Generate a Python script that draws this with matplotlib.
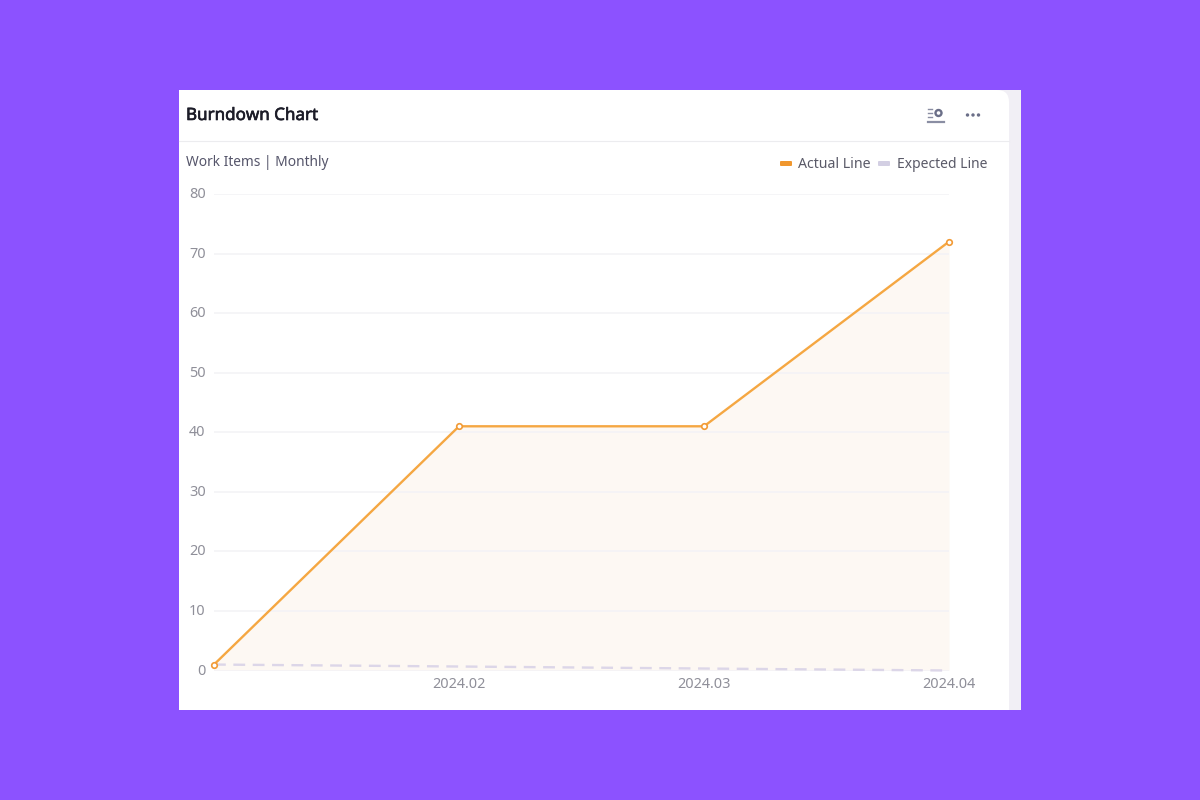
import matplotlib
matplotlib.use("Agg")
import matplotlib.pyplot as plt
import matplotlib.patheffects as pe
from matplotlib.patches import Rectangle, FancyBboxPatch, Circle
from matplotlib.lines import Line2D
from matplotlib.transforms import ScaledTranslation

plt.rcParams['font.family'] = ['Noto Sans', 'DejaVu Sans']

W, H = 1200, 800
periods = ['2024.01', '2024.02', '2024.03', '2024.04']
tick_labels = ['', '2024.02', '2024.03', '2024.04']
actual = [1, 41, 41, 72]
expected = [1, 0.67, 0.33, 0]
y_ticks = [0, 10, 20, 30, 40, 50, 60, 70, 80]

PURPLE = '#8c52ff'
ORANGE = '#f5a742'
LAV = '#dcd6e8'

fig = plt.figure(figsize=(W / 100, H / 100), dpi=100, facecolor=PURPLE)

# page layer in pixel coordinates
bg = fig.add_axes([0, 0, 1, 1], zorder=0)
bg.set_xlim(0, W)
bg.set_ylim(H, 0)
bg.axis('off')
bg.add_patch(Rectangle((179, 90), 842, 620, fc='#f1eff5', ec='none'))
bg.add_patch(Rectangle((179, 90), 815, 620, fc='white', ec='none'))
bg.add_patch(Rectangle((179, 105), 830, 605, fc='white', ec='none'))
bg.add_patch(FancyBboxPatch((960, 90), 49, 60, boxstyle='round,pad=0,rounding_size=12',
                            fc='white', ec='none'))
bg.add_line(Line2D([179, 1009], [140.5, 140.5], color='#ececef', lw=0.8))
bg.text(186, 116, 'Burndown Chart', fontsize=12.25, color='#1c1c28',
        va='center', ha='left',
        path_effects=[pe.withStroke(linewidth=0.45, foreground='#1c1c28')])
bg.text(186, 162.5, 'Work Items | Monthly', fontsize=9.9, color='#55556a', va='center', ha='left')

# legend
bg.add_patch(FancyBboxPatch((780, 161), 12, 5, boxstyle='round,pad=0,rounding_size=1',
                            fc='#f0972e', ec='none'))
bg.text(798, 164.5, 'Actual Line', fontsize=10.2, color='#5a5a68', va='center', ha='left')
bg.add_patch(FancyBboxPatch((878, 161), 12, 5, boxstyle='round,pad=0,rounding_size=1',
                            fc='#d3cfe3', ec='none'))
bg.text(897, 164.5, 'Expected Line', fontsize=10.0, color='#5a5a68', va='center', ha='left')

# header icons
ICON = '#6b6f88'
for yy, x1 in [(109, 932), (113, 932), (117, 932)]:
    bg.add_line(Line2D([928, x1], [yy, yy], color='#8a8ea3', lw=1))
bg.add_line(Line2D([928, 944], [121.5, 121.5], color='#8a8ea3', lw=1.6))
bg.add_patch(Circle((938.5, 113), 3, fc='white', ec=ICON, lw=1.7))
for cx in [967.5, 973, 978.5]:
    bg.add_patch(Circle((cx, 115), 1.7, fc=ICON, ec='none'))

# chart: x 214..949 px, y 194 (80) .. 670.5 (0)
left, right, top, bottom = 214, 949, 194, 670.5
ax = fig.add_axes([left / W, 1 - bottom / H, (right - left) / W, (bottom - top) / H], zorder=1)
ax.patch.set_alpha(0)
x = list(range(len(periods)))
ax.set_xlim(x[0], x[-1])
ax.set_ylim(0, 80)
ax.set_yticks(y_ticks)
ax.set_xticks(x)
ax.set_xticklabels(tick_labels)
ax.grid(axis='y', color='#f4f3f6', lw=1.2, zorder=0)
ax.grid(axis='x', visible=False)
for s in ax.spines.values():
    s.set_visible(False)
ax.tick_params(axis='both', length=0, labelsize=10.4, labelcolor='#8f8f99')
ax.tick_params(axis='x', pad=5)
ax.tick_params(axis='y', pad=6)
shift = ScaledTranslation(0, 1.0 / 72, fig.dpi_scale_trans)
for lab in ax.get_yticklabels():
    lab.set_transform(lab.get_transform() + shift)

ax.fill_between(x, actual, 0, color='#fdf8f3', lw=0, zorder=1)
ax.plot(x, expected, color=LAV, lw=1.7, dashes=(5, 3.2), zorder=2, clip_on=False, label='Expected Line')
ax.plot(x, actual, color=ORANGE, lw=1.7, marker='o', ms=4, mfc='white', mec='#f29a35', mew=1.2,
        zorder=3, clip_on=False, label='Actual Line')

fig.savefig('out.png', dpi=100, facecolor=PURPLE)
